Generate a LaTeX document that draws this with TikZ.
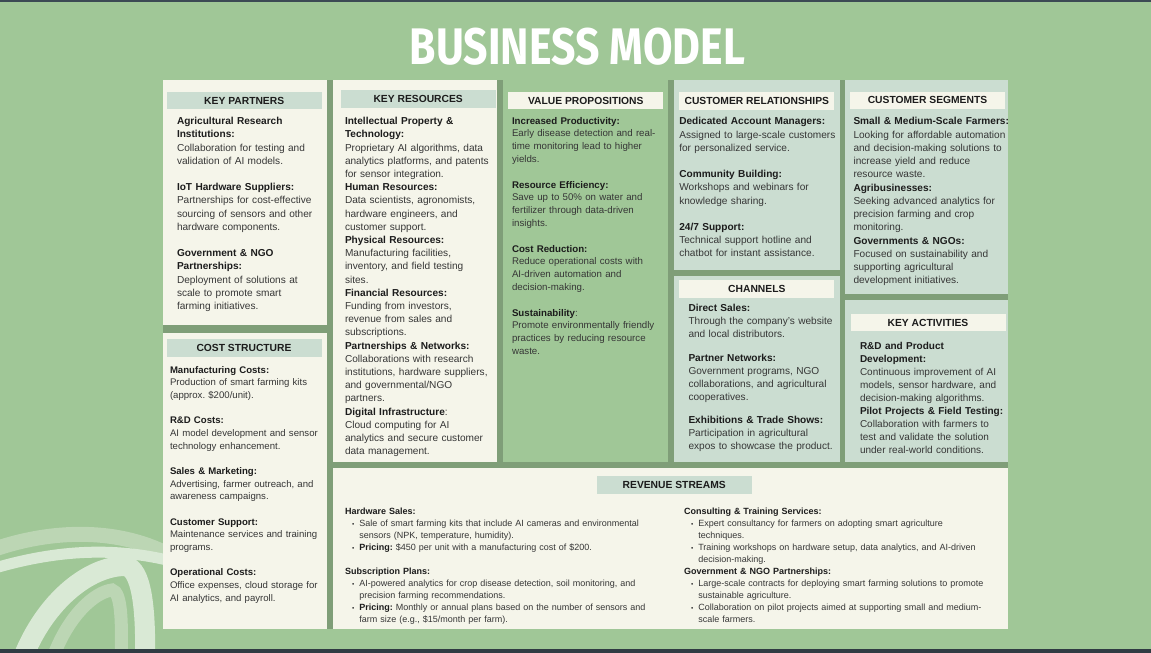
\documentclass[tikz,border=0pt]{standalone}
\usepackage{fontspec}
\setmainfont{Liberation Sans}
\newfontfamily\titlefont{Fira Sans}
\usepackage{graphicx}
\frenchspacing

\definecolor{bggreen}{HTML}{A0C797}
\definecolor{frame}{HTML}{7F9E78}
\definecolor{cream}{HTML}{F5F5EA}
\definecolor{mint}{HTML}{CBDDD1}
\definecolor{ink}{HTML}{1C1C1C}
\definecolor{txt}{HTML}{363636}
\definecolor{slate}{HTML}{3C4A54}
\definecolor{swmid}{HTML}{BCD6B4}
\definecolor{swlight}{HTML}{D9E9D5}

\newcommand\fs[2]{\fontsize{#1}{#2}\selectfont}
\newcommand\hd[1]{{\color{ink}\bfseries #1}}
\newcommand\bl{\makebox[14.3pt][l]{\hspace{7.2pt}{\fs{6.5}{7}\textbullet}}}
\newcommand\ind{\hspace*{14.3pt}}

\tikzset{
  hdr/.style={inner sep=0, outer sep=0, minimum width=155pt, minimum height=17.6pt,
              font=\fs{10.3}{12}\bfseries, text=ink},
  body/.style={anchor=north west, inner sep=0, outer sep=0, text width=340pt,
               align=left, text=txt, execute at begin node=\strut},
}

\begin{document}
\begin{tikzpicture}[x=1pt,y=-1pt]
\useasboundingbox (0,0) rectangle (1151,653);
\fill[bggreen] (0,0) rectangle (1151,653);

% decorative swirl, lower left
\begin{scope}[line cap=butt]
  \draw[swmid, line width=15pt] (-5,549) .. controls (50,530) and (120,526) .. (175,558);
  \draw[swlight, line width=11pt] (-5,568) .. controls (50,552) and (110,545) .. (175,562);
  \draw[swlight, line width=20pt] (22,660) .. controls (45,600) and (90,566) .. (125,566)
        .. controls (142,568) and (146,610) .. (145,660);
  \draw[swmid, line width=13pt] (52,660) .. controls (68,615) and (95,592) .. (112,590)
        .. controls (122,592) and (122,625) .. (121,660);
\end{scope}

% top rule and bottom bar
\fill[slate] (0,0) rectangle (1151,1.5);
\fill[slate!80!black] (0,649) rectangle (1151,653);

% title
\node[inner sep=0, anchor=south, text=white] (title) at (577.5,65.5)
  {\resizebox{335pt}{36.5pt}{\titlefont\bfseries BUSINESS MODEL}};

% canvas: dark backing shows through the gaps between blocks
\fill[frame] (163,80) rectangle (1008,628.5);
\fill[cream]   (163,80)    rectangle (327,325);     % key partners
\fill[cream]   (163,332.5) rectangle (327,628.5);   % cost structure
\fill[cream]   (333,80)    rectangle (497,461.5);   % key resources
\fill[bggreen] (503,80)    rectangle (668,461.5);   % value propositions
\fill[mint]    (674,80)    rectangle (840,270);     % customer relationships
\fill[mint]    (674,276)   rectangle (840,461.5);   % channels
\fill[mint]    (845,80)    rectangle (1008,294);    % customer segments
\fill[mint]    (845,300)   rectangle (1008,461.5);  % key activities
\fill[cream]   (333,467.5) rectangle (1008,628.5);  % revenue streams

% block headings
\node[hdr, fill=mint]  (kph) at (244.2,100.5) {KEY PARTNERS};
\node[hdr, fill=mint]  (krh) at (418.2,98.8)  {KEY RESOURCES};
\node[hdr, fill=cream] (vph) at (585.8,100.5) {VALUE PROPOSITIONS};
\node[hdr, fill=cream] (crh) at (756.8,100.7) {CUSTOMER RELATIONSHIPS};
\node[hdr, fill=cream] (csh) at (927.5,100.4) {CUSTOMER SEGMENTS};
\node[hdr, fill=cream] (chh) at (756.8,288.8) {CHANNELS};
\node[hdr, fill=cream] (kah) at (928,322.5)   {KEY ACTIVITIES};
\node[hdr, fill=mint]  (cth) at (244,348)     {COST STRUCTURE};
\node[hdr, fill=mint]  (rsh) at (674.2,484.7) {REVENUE STREAMS};

% key partners
\node[body, font=\fs{10.1}{13.2}] (kpt) at (177,115.4) {%
\hd{Agricultural Research}\\
\hd{Institutions:}\\
Collaboration for testing and\\
validation of AI models.\\[13.2pt]
\hd{IoT Hardware Suppliers:}\\
Partnerships for cost-effective\\
sourcing of sensors and other\\
hardware components.\\[13.2pt]
\hd{Government \& NGO}\\
\hd{Partnerships:}\\
Deployment of solutions at\\
scale to promote smart\\
farming initiatives.};

% key resources
\node[body, font=\fs{10.1}{13.2}] (krt) at (345,115.4) {%
\hd{Intellectual Property \&}\\
\hd{Technology:}\\
Proprietary AI algorithms, data\\
analytics platforms, and patents\\
for sensor integration.\\
\hd{Human Resources:}\\
Data scientists, agronomists,\\
hardware engineers, and\\
customer support.\\
\hd{Physical Resources:}\\
Manufacturing facilities,\\
inventory, and field testing\\
sites.\\
\hd{Financial Resources:}\\
Funding from investors,\\
revenue from sales and\\
subscriptions.\\
\hd{Partnerships \& Networks:}\\
Collaborations with research\\
institutions, hardware suppliers,\\
and governmental/NGO\\
partners.\\
\hd{Digital Infrastructure}:\\
Cloud computing for AI\\
analytics and secure customer\\
data management.};

% value propositions
\node[body, font=\fs{9.7}{12.8}] (vpt) at (512,115.2) {%
\hd{Increased Productivity:}\\
Early disease detection and real-\\
time monitoring lead to higher\\
yields.\\[12.8pt]
\hd{Resource Efficiency:}\\
Save up to 50\% on water and\\
fertilizer through data-driven\\
insights.\\[12.8pt]
\hd{Cost Reduction:}\\
Reduce operational costs with\\
AI-driven automation and\\
decision-making.\\[12.8pt]
\hd{Sustainability}:\\
Promote environmentally friendly\\
practices by reducing resource\\
waste.};

% customer relationships
\node[body, font=\fs{10.1}{13.2}] (crt) at (679.3,115.6) {%
\hd{Dedicated Account Managers:}\\
Assigned to large-scale customers\\
for personalized service.\\[13.2pt]
\hd{Community Building:}\\
Workshops and webinars for\\
knowledge sharing.\\[13.2pt]
\hd{24/7 Support:}\\
Technical support hotline and\\
chatbot for instant assistance.};

% customer segments
\node[body, font=\fs{10.1}{13.25}] (cst) at (853.5,115.7) {%
\hd{Small \& Medium-Scale Farmers:}\\
Looking for affordable automation\\
and decision-making solutions to\\
increase yield and reduce\\
resource waste.\\
\hd{Agribusinesses:}\\
Seeking advanced analytics for\\
precision farming and crop\\
monitoring.\\
\hd{Governments \& NGOs:}\\
Focused on sustainability and\\
supporting agricultural\\
development initiatives.};

% channels
\node[body, font=\fs{10.1}{13}] (cht) at (688.5,302.8) {%
\hd{Direct Sales:}\\
Through the company's website\\
and local distributors.\\[10.5pt]
\hd{Partner Networks:}\\
Government programs, NGO\\
collaborations, and agricultural\\
cooperatives.\\[10.5pt]
\hd{Exhibitions \& Trade Shows:}\\
Participation in agricultural\\
expos to showcase the product.};

% key activities
\node[body, font=\fs{10}{13}] (kat) at (860,340.5) {%
\hd{R\&D and Product}\\
\hd{Development:}\\
Continuous improvement of AI\\
models, sensor hardware, and\\
decision-making algorithms.\\
\hd{Pilot Projects \& Field Testing:}\\
Collaboration with farmers to\\
test and validate the solution\\
under real-world conditions.};

% cost structure
\node[body, font=\fs{9.6}{12.67}] (ctt) at (170,364.4) {%
\hd{Manufacturing Costs:}\\
Production of smart farming kits\\
(approx. \$200/unit).\\[12.67pt]
\hd{R\&D Costs:}\\
AI model development and sensor\\
technology enhancement.\\[12.67pt]
\hd{Sales \& Marketing:}\\
Advertising, farmer outreach, and\\
awareness campaigns.\\[12.67pt]
\hd{Customer Support:}\\
Maintenance services and training\\
programs.\\[12.67pt]
\hd{Operational Costs:}\\
Office expenses, cloud storage for\\
AI analytics, and payroll.};

% revenue streams, left column
\node[body, font=\fs{9}{11.93}] (rsl) at (345,506.5) {%
\hd{Hardware Sales:}\\
\bl Sale of smart farming kits that include AI cameras and environmental\\
\ind sensors (NPK, temperature, humidity).\\
\bl\hd{Pricing:} \$450 per unit with a manufacturing cost of \$200.\\[11.93pt]
\hd{Subscription Plans:}\\
\bl AI-powered analytics for crop disease detection, soil monitoring, and\\
\ind precision farming recommendations.\\
\bl\hd{Pricing:} Monthly or annual plans based on the number of sensors and\\
\ind farm size (e.g., \$15/month per farm).};

% revenue streams, right column
\node[body, font=\fs{9}{11.93}] (rsr) at (684,506.5) {%
\hd{Consulting \& Training Services:}\\
\bl Expert consultancy for farmers on adopting smart agriculture\\
\ind techniques.\\
\bl Training workshops on hardware setup, data analytics, and AI-driven\\
\ind decision-making.\\
\hd{Government \& NGO Partnerships:}\\
\bl Large-scale contracts for deploying smart farming solutions to promote\\
\ind sustainable agriculture.\\
\bl Collaboration on pilot projects aimed at supporting small and medium-\\
\ind scale farmers.};
\end{tikzpicture}
\end{document}
